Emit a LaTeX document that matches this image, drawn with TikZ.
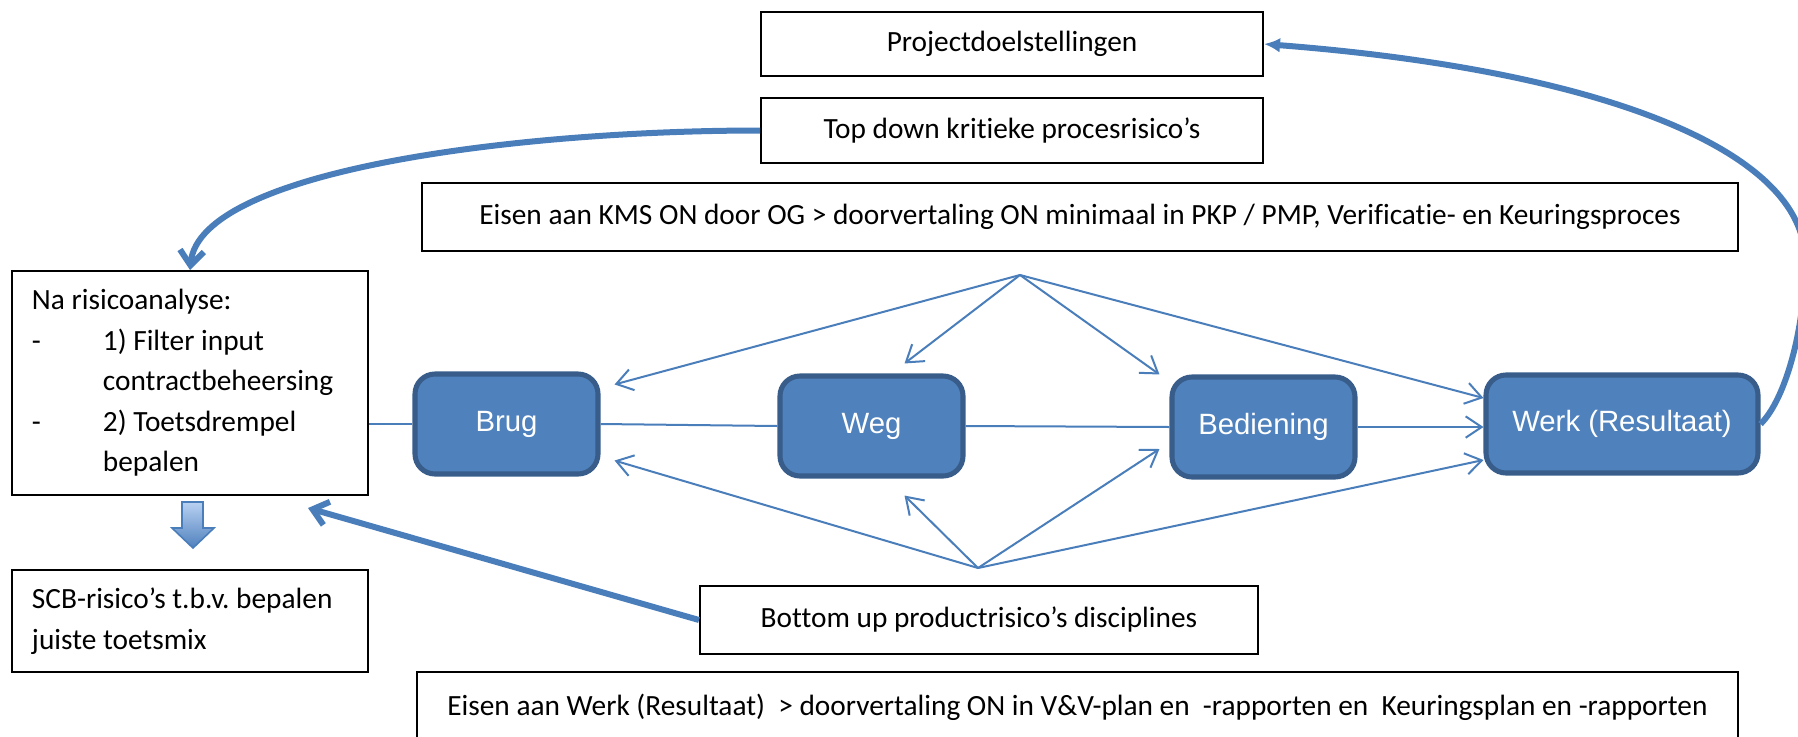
\documentclass[tikz,border=0pt]{standalone}
\usepackage{fontspec}
\setmainfont{Carlito}[Ligatures=CommonOff]
\newfontfamily\arialfont{Liberation Sans}
\usepackage{tikz}
\usetikzlibrary{arrows.meta,calc}
\definecolor{vulblauw}{HTML}{4F81BD}
\definecolor{randblauw}{HTML}{385D8A}
\definecolor{lijnblauw}{HTML}{4A7EBB}
\definecolor{lichtblauw}{HTML}{B9D1F2}
\def\eenheid{0.375pt}

\begin{document}
\begin{tikzpicture}[x=\eenheid,y=-\eenheid]
  \tikzset{
    kader/.style={draw=black,line width=0.75pt,fill=white,inner sep=0pt,
      font=\fontsize{11}{15.2}\selectfont},
    blok/.style={draw=randblauw,fill=vulblauw,line width=1.9pt,
      rounded corners=7.5pt,text=white,
      font=\arialfont\fontsize{11}{13}\selectfont,
      minimum width=183*\eenheid,minimum height=100*\eenheid},
    lijn/.style={draw=lijnblauw,line width=0.75pt},
    pijl/.style={lijn,-{Straight Barb[length=6pt,width=8pt]}},
    dikke pijl/.style={draw=lijnblauw,line width=2.25pt,
      -{Straight Barb[length=5.5pt,width=9pt]}},
  }
  \useasboundingbox (0,0) rectangle (1798,736);

  % kaders bovenaan
  \node[kader,minimum width=502*\eenheid,minimum height=64*\eenheid] (doelen) at (1012,44) {Projectdoelstellingen};
  \node[kader,minimum width=502*\eenheid,minimum height=65*\eenheid] (topdown) at (1012,130.5) {Top down kritieke procesrisico’s};
  \node[kader,minimum width=1316*\eenheid,minimum height=68*\eenheid] (kms) at (1080,217) {Eisen aan KMS ON door OG > doorvertaling ON minimaal in PKP / PMP, Verificatie- en Keuringsproces};

  % kaders links
  \node[kader,minimum width=356*\eenheid,minimum height=224*\eenheid,text width=118.5pt,align=flush left] (analyse) at (190,383)
    {Na risicoanalyse:\\
     \makebox[26.6pt][l]{-}1) Filter input\\
     \hspace*{26.6pt}contractbeheersing\\
     \makebox[26.6pt][l]{-}2) Toetsdrempel\\
     \hspace*{26.6pt}bepalen};
  \node[kader,minimum width=356*\eenheid,minimum height=102*\eenheid,text width=118.5pt,align=flush left] (scb) at (190,621)
    {\mbox{SCB-risico’s t.b.v.\ bepalen}\\juiste toetsmix};

  % blokken
  \node[blok] (brug) at (506.5,424) {Brug};
  \node[blok] (weg) at (871.5,426) {Weg};
  \node[blok] (bediening) at (1263.5,427) {Bediening};
  \node[blok,minimum width=272*\eenheid,minimum height=98*\eenheid] (werk) at (1622,424) {Werk (Resultaat)};

  % kaders onderaan
  \node[kader,minimum width=558*\eenheid,minimum height=68*\eenheid] (bottomup) at (979,620) {Bottom up productrisico’s disciplines};
  \node[kader,minimum width=1321*\eenheid,minimum height=70*\eenheid] (eisenwerk) at (1077.5,707) {Eisen aan Werk (Resultaat)\ \ > doorvertaling ON in V\&V-plan en\ \ -rapporten en\ \ Keuringsplan en -rapporten};

  \coordinate (boven) at (1020,275);
  \coordinate (onder) at (978,568);
  \coordinate (bocht) at (1805,260);
  \coordinate (terug) at (308,508);

  % keten
  \draw[lijn] (analyse.east |- brug.west) -- (brug.west);
  \draw[lijn] (brug.east) -- (weg.west);
  \draw[lijn] (weg.east) -- (bediening.west);
  \draw[pijl] (bediening.east) -- (bediening.east -| werk.west);

  % waaier boven
  \draw[pijl] (boven) -- ($(brug.north east)+(14,13)$);
  \draw[pijl] (boven) -- ($(weg.north)+(33,-10)$);
  \draw[pijl] (boven) -- ($(bediening.north west)+(-10,0)$);
  \draw[pijl] (boven) -- ($(werk.west)+(0,-26)$);
  % waaier onder
  \draw[pijl] (onder) -- ($(brug.south east)+(14,-16)$);
  \draw[pijl] (onder) -- ($(weg.south)+(33,17)$);
  \draw[pijl] (onder) -- ($(bediening.west)+(-10,22)$);
  \draw[pijl] (onder) -- ($(werk.west)+(0,36)$);

  % dikke pijlen
  \draw[dikke pijl] (bottomup.west) -- (terug);
  \draw[dikke pijl] (topdown.west) .. controls +(-242,0) and +(10,-100) .. (analyse.north);
  \draw[dikke pijl,-{Latex[length=6pt,width=5.5pt]}] (werk.east) .. controls (1785,400) and (1805,330) .. (bocht)
    .. controls (1805,150) and (1600,70) .. (doelen.east);

  % blokpijl omlaag
  \shadedraw[top color=lichtblauw,bottom color=vulblauw,draw=lijnblauw,line width=0.6pt]
    (182,502) -- (203,502) -- (203,528) -- (214,528) -- (193,548) -- (172,528) -- (182,528) -- cycle;
\end{tikzpicture}
\end{document}
